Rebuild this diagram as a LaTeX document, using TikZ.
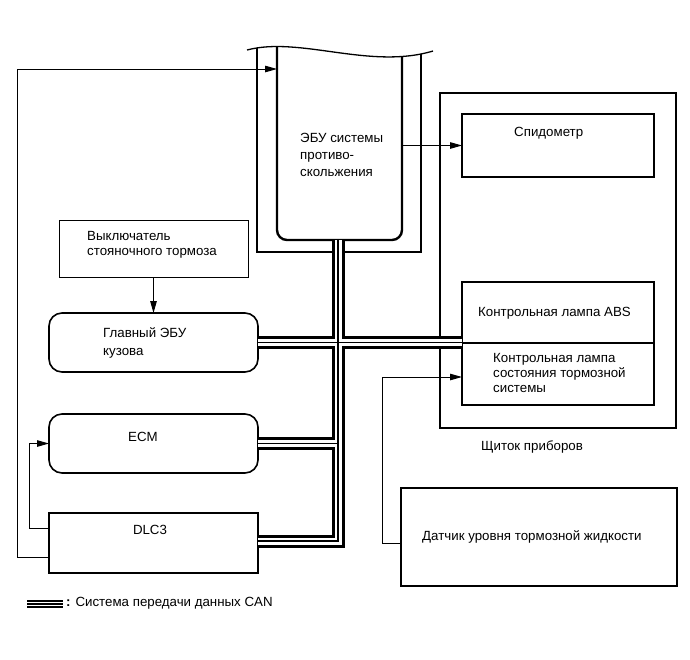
\documentclass[tikz,border=0pt]{standalone}
\usepackage{fontspec}
\setmainfont{Liberation Sans}
\usetikzlibrary{arrows.meta}
\begin{document}
\begin{tikzpicture}[x=1pt,y=-1pt,
  txt/.style={font=\fontsize{13.3}{16}\selectfont, align=left, inner sep=0pt, anchor=west},
  shapebox/.style={draw, inner sep=0pt, outer sep=0pt, anchor=north west},
  conn/.style={line width=1pt, -{Triangle[length=12pt,width=6.5pt]}},
  bus/.style={line width=13pt, line join=miter, line cap=butt,
    postaction={draw, white, line width=7pt},
    postaction={draw, black, line width=1.2pt}},
  legbus/.style={line width=8pt, line cap=butt,
    postaction={draw, white, line width=3.6pt},
    postaction={draw, black, line width=1.2pt}}]
\useasboundingbox (0,0) rectangle (690,659);

% instrument panel frame
\node[shapebox, line width=1.2pt, minimum width=236pt, minimum height=335pt] (panel) at (440,93) {};
\node[txt] (paneltxt) at (481,447) {Щиток приборов};

% anti-skid ECU (shape drawn directly)
\node[inner sep=0pt, outer sep=0pt, minimum width=125pt, minimum height=194pt, anchor=north west] (ecu) at (277,46) {};
\begin{scope}
  \clip (247,50) .. controls (300,36) and (370,70) .. (433,51) -- (433,300) -- (247,300) -- cycle;
  \draw[line width=2.4pt, rounded corners=10pt] (277,30) -- (277,240) -- (402,240) -- (402,30);
  \draw[line width=2pt] (257,30) -- (257,252) -- (421,252) -- (421,30);
\end{scope}
\draw[line width=1.3pt] (247,50) .. controls (300,36) and (370,70) .. (433,51);
\node[txt, font=\fontsize{13.3}{17}\selectfont] (ecutxt) at (300,155) {ЭБУ системы\\противо-\\скольжения};

% speedometer and lamps
\node[shapebox, line width=2pt, minimum width=192pt, minimum height=63pt] (spd) at (462,114) {};
\node[txt] (spdtxt) at (514,133) {Спидометр};
\node[shapebox, line width=2pt, minimum width=192pt, minimum height=61pt] (abs) at (462,282) {};
\node[txt] (abstxt) at (478,313) {Контрольная лампа ABS};
\node[shapebox, line width=2pt, minimum width=192pt, minimum height=62pt] (brk) at (462,343) {};
\node[txt, font=\fontsize{13.3}{15}\selectfont] (brktxt) at (493,373) {Контрольная лампа\\состояния тормозной\\системы};

% sensor
\node[shapebox, line width=1.2pt, minimum width=276pt, minimum height=98pt] (sensor) at (401,488) {};
\node[txt] (sensortxt) at (422,537) {Датчик уровня тормозной жидкости};

% left side
\node[shapebox, line width=1pt, minimum width=189pt, minimum height=57pt] (sw) at (59,220) {};
\node[txt, font=\fontsize{13.3}{15}\selectfont] (swtxt) at (87,244.5) {Выключатель\\стояночного тормоза};
\node[shapebox, line width=1.6pt, rounded corners=13pt, minimum width=209pt, minimum height=59pt] (body) at (49,313) {};
\node[txt, font=\fontsize{13.3}{18}\selectfont] (bodytxt) at (103,342.5) {Главный ЭБУ\\кузова};
\node[shapebox, line width=1.6pt, rounded corners=13pt, minimum width=209pt, minimum height=59pt] (ecm) at (49,414) {};
\node[txt, anchor=center] (ecmtxt) at (143,437) {ECM};
\node[shapebox, line width=1.6pt, minimum width=209pt, minimum height=60pt] (dlc) at (49,513) {};
\node[txt, anchor=center] (dlctxt) at (150,530) {DLC3};

% connectors
\coordinate (l1) at (17,557);
\coordinate (l2) at (17,69);
\draw[conn] (dlc.west |- l1) -- (l1) -- (l2) -- (l2 -| ecu.west);
\coordinate (m1) at (29,528);
\draw[conn] (dlc.west |- m1) -- (m1) -- (m1 |- ecm.west) -- (ecm.west);
\draw[conn] (ecu.east |- spd.west) -- (spd.west);
\draw[conn] (sw.south) -- (body.north);
\coordinate (b1) at (382,543);
\coordinate (b2) at (382,377);
\draw[conn] (sensor.west |- b1) -- (b1) -- (b2) -- (b2 -| brk.west);

% CAN bus
\coordinate (bx) at (338,0);
\draw[bus] (bx |- ecu.south) -- (bx |- 0,541) -- (dlc.east |- 0,541)
  (ecm.east) -- (bx |- ecm.east)
  (body.east) -- (body.east -| abs.west);

% legend
\coordinate (lg1) at (27,604);
\coordinate (lg2) at (63,604);
\draw[legbus] (lg1) -- (lg2);
\node[txt] (legtxt) at (66,603) {{\bfseries :} Система передачи данных CAN};
\end{tikzpicture}
\end{document}
